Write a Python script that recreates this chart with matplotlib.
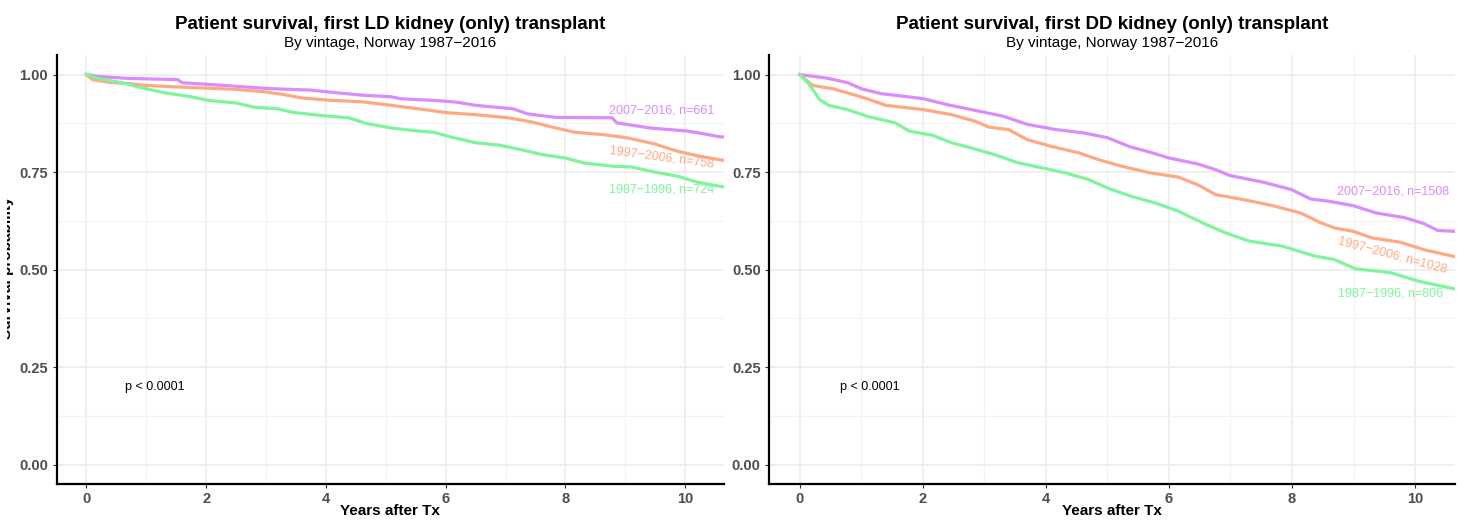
import matplotlib.pyplot as plt
from matplotlib.transforms import Bbox, TransformedBbox

plt.rcParams['font.family'] = ['Liberation Sans', 'DejaVu Sans']

# Kaplan-Meier curves (time in years, survival)
ld_t_2007 = [0, 0.2, 0.69, 1.52, 1.6, 2.49, 3.04, 3.75, 4.06, 4.61, 5.09, 5.24, 5.87, 6.19, 6.5, 7.13,
             7.37, 7.84, 8.78, 8.86, 9.41, 10.04, 10.27, 10.59, 10.65]
ld_s_2007 = [1.0, 0.995, 0.99, 0.987, 0.979, 0.97, 0.964, 0.96, 0.955, 0.947, 0.943, 0.938, 0.933, 0.929, 0.921,
             0.912, 0.899, 0.89, 0.889, 0.876, 0.863, 0.855, 0.849, 0.84, 0.84]
ld_t_1997 = [0, 0.1, 0.37, 0.76, 1.0, 1.55, 2.0, 2.49, 2.96, 3.28, 3.59, 4.06, 4.61, 5.09, 5.64, 6.03, 6.5,
             7.05, 7.45, 7.84, 8.15, 8.62, 9.02, 9.49, 9.88, 10.2, 10.63, 10.65]
ld_s_1997 = [1.0, 0.987, 0.98, 0.976, 0.972, 0.968, 0.965, 0.962, 0.956, 0.949, 0.94, 0.934, 0.93, 0.921, 0.91,
             0.902, 0.897, 0.889, 0.878, 0.863, 0.852, 0.846, 0.838, 0.822, 0.803, 0.792, 0.78, 0.78]
ld_t_1987 = [0, 0.21, 0.6, 0.92, 1.31, 1.71, 2.02, 2.49, 2.81, 3.2, 3.44, 3.91, 4.38, 4.69, 5.09, 5.48, 5.8,
             6.11, 6.5, 6.89, 7.21, 7.6, 8.0, 8.31, 8.78, 9.1, 9.49, 9.88, 10.2, 10.63, 10.65]
ld_s_1987 = [1.0, 0.989, 0.979, 0.966, 0.953, 0.944, 0.934, 0.927, 0.916, 0.912, 0.903, 0.895, 0.889, 0.874,
             0.863, 0.856, 0.852, 0.839, 0.825, 0.819, 0.809, 0.795, 0.786, 0.773, 0.765, 0.763, 0.75, 0.739,
             0.724, 0.712, 0.712]

dd_t_2007 = [0, 0.47, 0.78, 1.01, 1.32, 1.7, 2.01, 2.39, 2.85, 3.31, 3.7, 4.16, 4.62, 5.0, 5.38, 5.69, 6.0,
             6.46, 6.76, 6.99, 7.53, 7.99, 8.3, 8.6, 8.99, 9.37, 9.83, 10.14, 10.37, 10.65]
dd_s_2007 = [1.0, 0.99, 0.979, 0.963, 0.951, 0.944, 0.938, 0.923, 0.908, 0.893, 0.872, 0.859, 0.85, 0.838,
             0.814, 0.801, 0.786, 0.771, 0.756, 0.741, 0.724, 0.705, 0.681, 0.675, 0.664, 0.645, 0.633, 0.618,
             0.6, 0.598]
dd_t_1997 = [0, 0.21, 0.55, 0.86, 1.09, 1.4, 2.01, 2.47, 2.85, 3.08, 3.39, 3.7, 4.08, 4.54, 4.85, 5.23, 5.69,
             6.15, 6.46, 6.76, 7.22, 7.68, 8.14, 8.45, 8.68, 8.99, 9.3, 9.76, 10.14, 10.65]
dd_s_1997 = [1.0, 0.972, 0.963, 0.949, 0.938, 0.921, 0.91, 0.897, 0.88, 0.865, 0.859, 0.833, 0.816, 0.799,
             0.782, 0.765, 0.748, 0.737, 0.718, 0.692, 0.679, 0.664, 0.645, 0.621, 0.607, 0.598, 0.581, 0.57,
             0.551, 0.533]
dd_t_1987 = [0, 0.13, 0.21, 0.32, 0.47, 0.78, 1.09, 1.55, 1.78, 2.16, 2.47, 2.78, 3.16, 3.54, 3.93, 4.31, 4.69,
             5.0, 5.38, 5.77, 6.15, 6.54, 6.92, 7.3, 7.84, 8.38, 8.68, 9.03, 9.6, 10.06, 10.65]
dd_s_1987 = [1.0, 0.979, 0.962, 0.936, 0.921, 0.91, 0.893, 0.876, 0.855, 0.844, 0.825, 0.812, 0.795, 0.774,
             0.761, 0.748, 0.731, 0.709, 0.688, 0.671, 0.65, 0.62, 0.594, 0.573, 0.56, 0.534, 0.526, 0.502,
             0.492, 0.47, 0.45]

titles = ['Patient survival, first LD kidney (only) transplant',
          'Patient survival, first DD kidney (only) transplant']
subtitle = 'By vintage, Norway 1987\u22122016'
ld_labels = ['2007\u22122016, n=661', '1997\u22122006, n=758', '1987\u22121996, n=724']
dd_labels = ['2007\u22122016, n=1508', '1997\u22122006, n=1028', '1987\u22121996, n=806']
colors = ['#d98cfb', '#ffa984', '#7ef59b']

fig = plt.figure(figsize=(14.65, 5.2), dpi=100)
ax1 = fig.add_axes([0.0386, 0.0692, 0.4556, 0.8250])
ax2 = fig.add_axes([0.5249, 0.0692, 0.4683, 0.8250])

panels = [
    (ax1, [(ld_t_2007, ld_s_2007), (ld_t_1997, ld_s_1997), (ld_t_1987, ld_s_1987)], ld_labels,
     [(9.61, 0.908, 0), (9.61, 0.787, -7.5), (9.61, 0.705, 0)]),
    (ax2, [(dd_t_2007, dd_s_2007), (dd_t_1997, dd_s_1997), (dd_t_1987, dd_s_1987)], dd_labels,
     [(9.65, 0.700, 0), (9.63, 0.536, -15), (9.6, 0.438, 0)]),
]

for i, (ax, curves, labels, lab_pos) in enumerate(panels):
    ax.set_xlim(-0.5, 10.65)
    ax.set_ylim(-0.05, 1.05)
    ax.set_xticks([0, 2, 4, 6, 8, 10])
    ax.set_xticks([1, 3, 5, 7, 9], minor=True)
    ax.set_yticks([0, 0.25, 0.5, 0.75, 1.0])
    ax.set_yticklabels(['0.00', '0.25', '0.50', '0.75', '1.00'])
    ax.set_yticks([0.125, 0.375, 0.625, 0.875], minor=True)
    ax.grid(which='major', color='#ebebeb', lw=1.1)
    ax.grid(which='minor', color='#f2f2f2', lw=0.8)
    ax.set_axisbelow(True)
    for s in ['top', 'right']:
        ax.spines[s].set_visible(False)
    for s in ['left', 'bottom']:
        ax.spines[s].set_linewidth(1.6)
    ax.tick_params(which='major', length=3, width=0.8, color='#333333', labelsize=10.5,
                   labelcolor='#4d4d4d', pad=3)
    ax.tick_params(which='minor', length=0)
    for lab in ax.get_xticklabels() + ax.get_yticklabels():
        lab.set_fontweight('bold')

    for (t, s), c in zip(curves, colors):
        ax.plot(t, s, color=c, lw=2.3, solid_joinstyle='miter')
    for lab, (x, y, rot), c in zip(labels, lab_pos, colors):
        ax.text(x, y, lab, color=c, fontsize=9, ha='center', va='center', rotation=rot,
                rotation_mode='anchor')

    ax.text(0.65, 0.2, 'p < 0.0001', fontsize=9, ha='left', va='center')
    ax.set_xlabel('Years after Tx', fontsize=11, fontweight='bold')
    ax.xaxis.set_label_coords(0.5, -0.063)
    ax.xaxis.label.set_va('center')
    ax.text(0.5, 1.072, titles[i], transform=ax.transAxes, ha='center', va='center',
            fontsize=13.5, fontweight='bold')
    ax.text(0.5, 1.028, subtitle, transform=ax.transAxes, ha='center', va='center', fontsize=11)

# y label, partly cut off at the left edge as in the original
ylab = fig.text(14 / 1465, 0.486, 'Survival probability', rotation=90, ha='right', va='center',
                fontsize=11, fontweight='bold')
ylab.set_clip_box(TransformedBbox(Bbox([[7 / 1465, 0], [1, 1]]), fig.transFigure))
ylab.set_clip_on(True)

fig.savefig('out.png', dpi=100)
